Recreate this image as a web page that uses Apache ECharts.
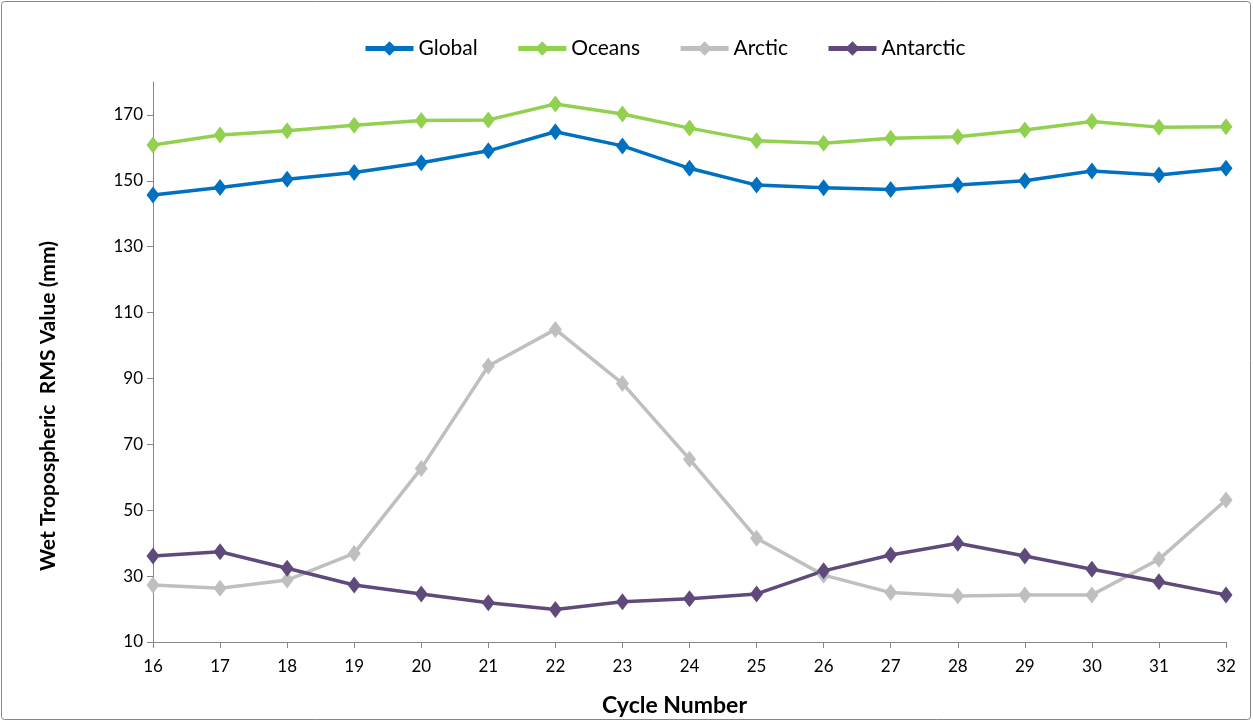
<!DOCTYPE html>
<html>
<head>
<meta charset="utf-8">
<title>Wet Tropospheric RMS Value</title>
<script src="https://cdn.jsdelivr.net/npm/echarts@6/dist/echarts.min.js"></script>
<style>
  html, body { margin: 0; padding: 0; background: #fff; }
  #trend-chart { width: 1253px; height: 722px; }
</style>
</head>
<body>
<div id="trend-chart"></div>
<script>
// 横轴: 周期编号
var cycles = ['16','17','18','19','20','21','22','23','24','25','26','27','28','29','30','31','32'];
// 各区域的数值 (mm)
var globalVals    = [145.7, 148.0, 150.5, 152.5, 155.5, 159.1, 164.9, 160.6, 153.8, 148.7, 147.9, 147.4, 148.7, 150.0, 153.0, 151.8, 153.8];
var oceansVals    = [160.9, 163.9, 165.2, 166.9, 168.3, 168.5, 173.3, 170.3, 166.0, 162.2, 161.4, 162.9, 163.4, 165.4, 168.0, 166.3, 166.4];
var arcticVals    = [27.3, 26.3, 28.8, 36.9, 62.7, 93.8, 104.9, 88.5, 65.5, 41.5, 30.3, 25.0, 24.0, 24.3, 24.3, 35.1, 53.1];
var antarcticVals = [36.1, 37.4, 32.4, 27.3, 24.6, 21.9, 19.9, 22.2, 23.1, 24.6, 31.6, 36.4, 40.0, 36.1, 32.1, 28.3, 24.3];
var seriesNames   = ['Global', 'Oceans', 'Arctic', 'Antarctic'];
var seriesColors  = ['#0070C0', '#92D050', '#BFBFBF', '#604A7B'];

var fontName = 'Lato';

function lineSeries(name, color, data) {
  return {
    name: name,
    type: 'line',
    data: data,
    symbol: 'diamond',
    symbolSize: [13, 17],
    lineStyle: { color: color, width: 3.5 },
    itemStyle: { color: color },
    emphasis: { disabled: true },
    animation: false
  };
}

var myChart = echarts.init(document.getElementById('trend-chart'));
var option = {
  animation: false,
  textStyle: { fontFamily: fontName },
  graphic: [{
    type: 'rect',
    shape: { x: 1.5, y: 1.5, width: 1249, height: 718, r: 3 },
    style: { fill: 'none', stroke: '#868686', lineWidth: 1 },
    silent: true
  }],
  legend: {
    top: 33,
    left: 358,
    itemWidth: 48,
    itemHeight: 18,
    itemGap: 38,
    data: seriesNames,
    lineStyle: { width: 5 },
    textStyle: { fontFamily: fontName, fontSize: 21, color: '#000' }
  },
  grid: { left: 153, right: 27, top: 82, bottom: 80 },
  xAxis: {
    type: 'category',
    boundaryGap: false,
    data: cycles,
    name: 'Cycle Number',
    nameLocation: 'middle',
    nameGap: 52,
    nameTextStyle: { fontFamily: fontName, fontSize: 23, fontWeight: 'bold', color: '#000', padding: [0, 30, 0, 0] },
    axisLine: { lineStyle: { color: '#868686', width: 1 } },
    axisTick: { alignWithLabel: true, length: 6, lineStyle: { color: '#868686' } },
    axisLabel: { fontFamily: fontName, fontSize: 17, color: '#000', margin: 16 }
  },
  yAxis: {
    type: 'value',
    min: 10,
    max: 180,
    interval: 20,
    name: 'Wet Tropospheric  RMS Value (mm)',
    nameLocation: 'middle',
    nameRotate: 90,
    nameGap: 94,
    nameTextStyle: { fontFamily: fontName, fontSize: 21, fontWeight: 'bold', color: '#000', padding: [0, 88, 0, 0] },
    splitLine: { show: false },
    axisLine: { show: true, lineStyle: { color: '#868686', width: 1 } },
    axisTick: { show: true, length: 6, lineStyle: { color: '#868686' } },
    axisLabel: { fontFamily: fontName, fontSize: 17, color: '#000', margin: 10, showMaxLabel: false }
  },
  series: [
    lineSeries(seriesNames[2], seriesColors[2], arcticVals),
    lineSeries(seriesNames[3], seriesColors[3], antarcticVals),
    lineSeries(seriesNames[0], seriesColors[0], globalVals),
    lineSeries(seriesNames[1], seriesColors[1], oceansVals)
  ]
};
myChart.setOption(option);
</script>
</body>
</html>
